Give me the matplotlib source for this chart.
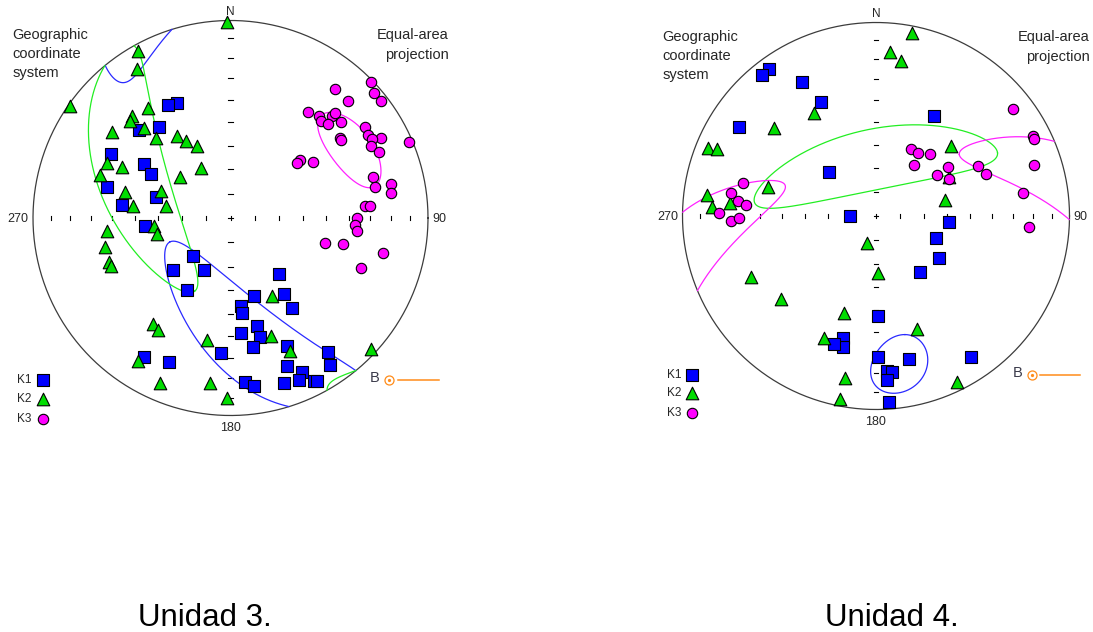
import numpy as np
import matplotlib.pyplot as plt

plt.rcParams['font.family'] = ['Liberation Sans', 'DejaVu Sans']

# ---- Unidad 3: poles as trend / plunge (deg), lower hemisphere ----
u3_k1_trend = [335, 331, 314, 322, 298, 302, 299, 284, 286, 277, 265, 225, 228, 207, 211, 184, 212, 203, 139, 163,
               145, 173, 173, 146, 175, 166, 166, 170, 156, 144, 146, 159, 155, 157, 153, 152, 175, 172, 162]
u3_k1_plunge = [36, 35, 36, 41, 32, 47, 52, 36, 58, 44, 54, 68, 58, 66, 55, 32, 18, 22, 59, 56,
                51, 53, 50, 44, 41, 43, 38, 34, 30, 17, 11, 21, 15, 12, 8, 7, 18, 15, 13]

u3_k2_trend = [359, 331, 328, 305, 323, 316, 314, 306, 316, 317, 327, 330, 335, 294, 295, 330, 309, 288, 284, 291,
               277, 281, 264, 258, 264, 257, 250, 248, 216, 213, 191, 213, 203, 187, 181, 152, 161, 156, 133]
u3_k2_plunge = [1, 4, 12, 1, 31, 29, 30, 27, 37, 44, 49, 53, 57, 32, 39, 66, 63, 31, 44, 59,
                49, 63, 58, 59, 37, 35, 35, 35, 34, 33, 37, 15, 10, 17, 10, 53, 37, 27, 3]

u3_k3_trend = [46, 39, 49, 52, 45, 36, 41, 45, 45, 43, 46, 49, 56, 59, 62, 54, 55, 61, 63, 66,
               67, 50, 50, 56, 74, 78, 78, 81, 85, 85, 90, 93, 96, 105, 103, 103, 111]
u3_k3_plunge = [1, 17, 4, 4, 17, 34, 32, 28, 26, 33, 32, 27, 19, 20, 15, 32, 32, 19, 21, 19,
                2, 52, 54, 48, 26, 26, 18, 19, 32, 30, 36, 37, 36, 49, 41, 22, 30]

# ---- Unidad 4 ----
u4_k1_trend = [324, 321, 331, 334, 303, 313, 269, 30, 95, 110, 124, 142, 179, 195, 194, 198, 179, 167, 176, 174,
               176, 146, 176]
u4_k1_plunge = [7, 7, 22, 35, 17, 63, 79, 40, 59, 63, 58, 60, 47, 35, 31, 31, 28, 25, 21, 20,
                16, 13, 4]

u4_k2_trend = [11, 5, 9, 329, 311, 292, 293, 285, 277, 273, 275, 47, 62, 77, 199, 178, 244, 229, 198, 203,
               191, 191, 160, 154]
u4_k2_plunge = [4, 16, 20, 38, 31, 7, 12, 42, 13, 16, 25, 46, 55, 60, 78, 66, 29, 35, 46, 32,
                16, 4, 38, 5]

u4_k3_trend = [284, 279, 276, 275, 271, 268, 269, 52, 63, 64, 28, 34, 41, 37, 56, 56, 63, 64, 69, 72, 81, 94]
u4_k3_plunge = [30, 25, 29, 33, 20, 26, 30, 11, 10, 10, 58, 58, 55, 63, 53, 59, 55, 41, 39, 15, 24, 22]

# confidence cones: trend, plunge, semi-major, semi-minor, axis rotation (deg)
u3_k1_cone = [170, 34, 55, 15, 33]
u3_k2_cone = [295, 43, 55, 14.5, -43]
u3_k3_cone = [60, 30, 16, 9.8, 102]
u4_k1_cone = [171, 23, 14.6, 9.9, -15]
u4_k2_cone = [357, 66, 53, 13, 99]
u4_k3_cone = [80, -2, 53, 11, -23]

BLUE, GREEN, MAGENTA = '#0000ff', '#00dd00', '#ff00ff'
ORANGE = '#ff8c1a'
TXT = '#262626'
SIZES = {'s': 74, '^': 82, 'o': 56}
W, H = 1093, 632


def project(trend, plunge):
    # Schmidt (equal-area) lower hemisphere, unit radius
    t = np.radians(np.asarray(trend, float))
    p = np.radians(np.asarray(plunge, float))
    r = np.sqrt(1 - np.sin(p))
    return r * np.sin(t), r * np.cos(t)


def cone_xy(trend, plunge, a, b, phi, n=2000):
    T, P, A, B, F = np.radians([trend, plunge, a, b, phi])
    c = np.array([np.cos(P) * np.sin(T), np.cos(P) * np.cos(T), np.sin(P)])
    d1 = np.array([-np.sin(P) * np.sin(T), -np.sin(P) * np.cos(T), np.cos(P)])
    d2 = np.array([np.cos(T), -np.sin(T), 0.0])
    e1 = np.cos(F) * d1 + np.sin(F) * d2
    e2 = -np.sin(F) * d1 + np.cos(F) * d2
    t = np.linspace(0, 2 * np.pi, n)
    v = c[:, None] + np.tan(A) * np.cos(t) * e1[:, None] + np.tan(B) * np.sin(t) * e2[:, None]
    v /= np.linalg.norm(v, axis=0)
    up = v[2] < 0
    v[:, up] *= -1          # upper hemisphere -> antipode
    s = 1 / np.sqrt(1 + v[2])
    x, y = v[0] * s, v[1] * s
    brk = np.where(up[1:] != up[:-1])[0] + 1
    return np.insert(x, brk, np.nan), np.insert(y, brk, np.nan)


def draw_net(ax, cx, cy, rad, x0, x1):
    # 1 data unit = net radius
    ax.set_xlim((x0 - cx) / rad, (x1 - cx) / rad)
    ax.set_ylim((cy - H) / rad, cy / rad)
    ax.axis('off')
    th = np.linspace(0, 2 * np.pi, 500)
    ax.plot(np.cos(th), np.sin(th), color='#3c3c3c', lw=0.9, zorder=1)
    rr = np.sqrt(1 - np.sin(np.radians(np.arange(80, 0, -10))))
    d = 0.011
    for r in rr:
        for s in (1, -1):
            ax.plot([-d, d], [s * r, s * r], color='k', lw=0.8, zorder=1)
            ax.plot([s * r, s * r], [-d, d], color='k', lw=0.8, zorder=1)
    ax.plot([-d, d], [0, 0], color='k', lw=0.8, zorder=1)
    ax.plot([0, 0], [-d, d], color='k', lw=0.8, zorder=1)

    ax.text(0, 1.045, 'N', ha='center', va='center', fontsize=8.5, color=TXT)
    ax.text(-1.023, -0.005, '270', ha='right', va='center', fontsize=9, color=TXT)
    ax.text(1.022, -0.005, '90', ha='left', va='center', fontsize=9, color=TXT)
    ax.text(0, -1.065, '180', ha='center', va='center', fontsize=9, color=TXT)
    ax.text(-1.103, 0.962, 'Geographic\ncoordinate\nsystem', ha='left', va='top',
            fontsize=10.5, color=TXT, linespacing=1.45)
    ax.text(1.105, 0.962, 'Equal-area\nprojection', ha='right', va='top',
            fontsize=10.5, color=TXT, linespacing=1.55, multialignment='right')

    # legend
    rows = [-0.82, -0.915, -1.02]
    for (lab, mk, col), yy in zip([('K1', 's', BLUE), ('K2', '^', GREEN), ('K3', 'o', MAGENTA)], rows):
        ax.text(-1.08, yy, lab, ha='left', va='center', fontsize=8.5, color=TXT)
        ax.scatter([-0.95], [yy], marker=mk, s=SIZES[mk], c=col, edgecolors='k', linewidths=0.8, zorder=5)

    # B symbol
    ax.text(0.73, -0.81, 'B', ha='center', va='center', fontsize=10.5, color='#3a3a4a')
    ax.plot([0.805], [-0.82], marker='o', ms=6.5, mfc='none', mec=ORANGE, mew=0.9)
    ax.plot([0.805], [-0.82], marker='o', ms=1.3, color=ORANGE)
    ax.plot([0.85, 1.055], [-0.82, -0.82], color=ORANGE, lw=1.1)


def draw_data(ax, k1, k2, k3, cones):
    for cone, col in zip(cones, ['#2a2aff', '#22ee22', '#ff22ff']):
        x, y = cone_xy(*cone)
        ax.plot(x, y, color=col, lw=0.9, zorder=2)
    for (tr, pl), mk, col, z in zip([k1, k2, k3], ['s', '^', 'o'], [BLUE, GREEN, MAGENTA], [3, 4, 5]):
        x, y = project(tr, pl)
        ax.scatter(x, y, marker=mk, s=SIZES[mk], c=col, edgecolors='k', linewidths=0.8, zorder=z)


fig = plt.figure(figsize=(W / 100, H / 100), dpi=100)
ax3 = fig.add_axes([0, 0, 546 / W, 1])
ax4 = fig.add_axes([546 / W, 0, (W - 546) / W, 1])

draw_net(ax3, 230.5, 218, 197.5, 0, 546)
draw_data(ax3, (u3_k1_trend, u3_k1_plunge), (u3_k2_trend, u3_k2_plunge), (u3_k3_trend, u3_k3_plunge),
          [u3_k1_cone, u3_k2_cone, u3_k3_cone])

draw_net(ax4, 876, 216, 193.5, 546, W)
draw_data(ax4, (u4_k1_trend, u4_k1_plunge), (u4_k2_trend, u4_k2_plunge), (u4_k3_trend, u4_k3_plunge),
          [u4_k1_cone, u4_k2_cone, u4_k3_cone])

fig.text(205 / W, 1 - 626.5 / H, 'Unidad 3.', ha='center', va='baseline', fontsize=22.5, color='k')
fig.text(891.5 / W, 1 - 626.5 / H, 'Unidad 4.', ha='center', va='baseline', fontsize=22.5, color='k')

fig.savefig('out.png', dpi=100)
